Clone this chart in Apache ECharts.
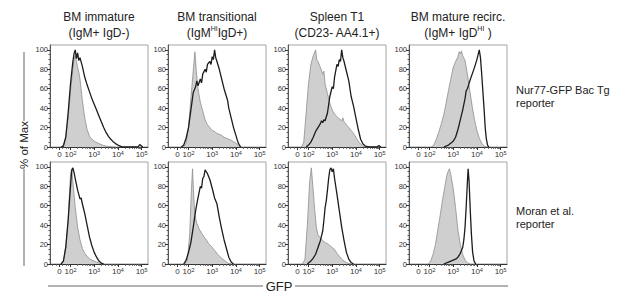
<!DOCTYPE html>
<html lang="en">
<head>
    <meta charset="UTF-8">
    <title>Nur77-GFP reporters</title>
    <script src="https://cdn.jsdelivr.net/npm/echarts@6.0.0/dist/echarts.min.js"></script>
    <style>
        body {
            margin: 0;
            background: #fff;
        }

        #main {
            width: 617px;
            height: 300px;
        }
    </style>
</head>
<body>
<div id="main"></div>

<script type="text/javascript">
    // x is in display decades: 2 = 10^2, 3 = 10^3 ... (biexponential axis, 0 sits at ~1.53)
    const xTickValues = [1.53, 2, 3, 4, 5];
    const xTickLabels = ['0', '10{s|2}', '10{s|3}', '10{s|4}', '10{s|5}'];
    const yTickValues = [0, 20, 40, 60, 80, 100];

    const colTitles = [
        'BM immature\n(IgM+ IgD-)',
        'BM transitional\n(IgM{sup|HI}IgD+)',
        'Spleen T1\n(CD23- AA4.1+)',
        'BM mature recirc.\n(IgM+ IgD{sup|HI} )'
    ];
    const rowLabels = ['Nur77-GFP Bac Tg\nreporter', 'Moran et al.\nreporter'];

    // top row: Nur77-GFP Bac Tg reporter  (ctrl = grey filled, gfp = black line)
    const tgImmCtrl = [[1.6, 0], [1.7, 2], [1.8, 10], [1.9, 30], [2.0, 58], [2.1, 80], [2.15, 90], [2.2, 94], [2.25, 88], [2.3, 82], [2.35, 77], [2.4, 70], [2.5, 48], [2.6, 30], [2.7, 18], [2.8, 11], [2.9, 8], [3.0, 6], [3.2, 3.5], [3.4, 1.5], [3.6, 0.5], [3.8, 0]];
    const tgImmGfp = [[1.6, 0], [1.7, 1], [1.8, 10], [1.9, 35], [2.0, 65], [2.1, 88], [2.15, 96], [2.2, 100], [2.25, 91], [2.3, 97], [2.35, 89], [2.4, 92], [2.5, 83], [2.6, 72], [2.7, 64], [2.8, 57], [2.9, 50], [3.0, 44], [3.1, 38], [3.2, 32], [3.3, 26], [3.4, 20], [3.5, 15], [3.6, 11], [3.7, 8], [3.8, 5.5], [3.9, 3.5], [4.0, 2], [4.1, 1], [4.2, 0], [4.85, 0], [4.92, 2.5], [5.0, 1], [5.05, 0]];
    const tgTransCtrl = [[1.8, 0], [1.9, 4], [2.0, 20], [2.1, 50], [2.2, 78], [2.27, 98], [2.33, 78], [2.4, 60], [2.5, 46], [2.6, 37], [2.7, 28], [2.8, 23], [2.9, 20], [3.0, 17], [3.1, 16], [3.2, 14], [3.3, 13], [3.4, 12], [3.5, 10], [3.6, 9], [3.7, 8], [3.8, 7], [3.9, 5.5], [4.0, 4], [4.1, 1.5], [4.2, 0]];
    const tgTransGfp = [[1.7, 0], [1.8, 2], [1.9, 9], [2.0, 20], [2.1, 38], [2.2, 56], [2.3, 62], [2.35, 68], [2.4, 63], [2.5, 70], [2.55, 66], [2.6, 75], [2.7, 80], [2.75, 77], [2.8, 85], [2.9, 88], [2.95, 85], [3.0, 93], [3.05, 90], [3.1, 100], [3.15, 92], [3.2, 88], [3.3, 80], [3.4, 70], [3.5, 60], [3.6, 52], [3.65, 48], [3.7, 40], [3.8, 30], [3.9, 20], [4.0, 12], [4.1, 4], [4.2, 0]];
    const tgT1Ctrl = [[1.7, 0], [1.8, 5], [1.9, 35], [2.0, 65], [2.1, 85], [2.2, 94], [2.3, 100], [2.35, 90], [2.4, 88], [2.5, 82], [2.6, 75], [2.65, 78], [2.7, 65], [2.8, 55], [2.9, 45], [3.0, 38], [3.1, 34], [3.2, 31], [3.3, 29], [3.4, 27], [3.45, 30], [3.5, 26], [3.6, 23], [3.7, 20], [3.8, 17], [3.9, 14], [4.0, 10], [4.1, 6], [4.2, 3], [4.3, 1], [4.4, 0]];
    const tgT1Gfp = [[1.9, 0], [2.0, 2], [2.1, 5], [2.2, 10], [2.3, 16], [2.4, 20], [2.5, 24], [2.55, 27], [2.6, 25], [2.65, 28], [2.7, 27], [2.8, 35], [2.9, 52], [3.0, 62], [3.05, 60], [3.1, 72], [3.2, 85], [3.25, 83], [3.3, 90], [3.35, 88], [3.4, 100], [3.45, 92], [3.5, 88], [3.6, 78], [3.7, 68], [3.8, 52], [3.9, 42], [4.0, 30], [4.1, 18], [4.2, 8], [4.3, 3], [4.4, 1], [4.5, 0.5], [4.6, 0], [4.9, 0], [4.97, 1.5], [5.05, 0]];
    const tgMatCtrl = [[2.1, 0], [2.2, 3], [2.3, 9], [2.4, 16], [2.5, 24], [2.6, 33], [2.7, 45], [2.8, 58], [2.9, 70], [3.0, 82], [3.1, 88], [3.2, 93], [3.25, 98], [3.3, 96], [3.35, 99], [3.4, 94], [3.5, 89], [3.6, 75], [3.7, 58], [3.8, 42], [3.9, 28], [4.0, 17], [4.1, 9], [4.2, 4], [4.3, 1], [4.4, 0]];
    const tgMatGfp = [[2.6, 0], [2.8, 2], [3.0, 6], [3.1, 10], [3.2, 18], [3.3, 28], [3.4, 38], [3.5, 50], [3.55, 58], [3.6, 60], [3.65, 64], [3.7, 68], [3.8, 75], [3.9, 82], [4.0, 90], [4.1, 100], [4.15, 92], [4.2, 76], [4.25, 58], [4.3, 40], [4.35, 20], [4.4, 8], [4.45, 2], [4.5, 0]];

    // bottom row: Moran et al. reporter
    const moImmCtrl = [[1.6, 0], [1.7, 3], [1.8, 18], [1.9, 45], [1.95, 70], [2.0, 92], [2.05, 98], [2.1, 85], [2.2, 58], [2.3, 38], [2.4, 25], [2.5, 16], [2.6, 11], [2.7, 8], [2.8, 5.5], [2.9, 4], [3.0, 3], [3.1, 2], [3.2, 1], [3.3, 0.5], [3.4, 0]];
    const moImmGfp = [[1.6, 0], [1.7, 3], [1.8, 17], [1.9, 45], [2.0, 80], [2.05, 96], [2.1, 99], [2.15, 94], [2.2, 88], [2.3, 76], [2.4, 67], [2.45, 68], [2.5, 62], [2.6, 52], [2.7, 40], [2.8, 28], [2.9, 19], [3.0, 12], [3.1, 7], [3.2, 3], [3.3, 1], [3.4, 0]];
    const moTransCtrl = [[1.85, 0], [1.95, 3], [2.05, 30], [2.12, 75], [2.17, 98], [2.22, 70], [2.27, 50], [2.35, 42], [2.45, 36], [2.55, 32], [2.65, 28], [2.75, 25], [2.85, 21], [3.0, 17], [3.1, 14], [3.2, 11], [3.3, 8], [3.4, 6], [3.5, 4], [3.6, 2], [3.7, 0.5], [3.8, 0]];
    const moTransGfp = [[1.8, 0], [1.9, 4], [2.0, 12], [2.1, 22], [2.2, 38], [2.3, 55], [2.4, 68], [2.5, 80], [2.55, 78], [2.6, 88], [2.65, 90], [2.7, 97], [2.75, 95], [2.8, 93], [2.9, 87], [3.0, 78], [3.1, 68], [3.2, 62], [3.3, 48], [3.4, 36], [3.5, 25], [3.6, 16], [3.7, 7], [3.8, 2], [3.9, 0]];
    const moT1Ctrl = [[1.75, 0], [1.85, 5], [1.95, 40], [2.05, 85], [2.12, 99], [2.19, 78], [2.26, 56], [2.33, 38], [2.4, 30], [2.5, 27], [2.6, 24], [2.7, 22], [2.8, 21], [2.9, 19], [3.0, 17], [3.1, 15], [3.2, 11], [3.3, 8], [3.4, 5], [3.5, 3], [3.6, 1.5], [3.7, 0.5], [3.8, 0]];
    const moT1Gfp = [[1.95, 0], [2.1, 3], [2.2, 6], [2.3, 10], [2.4, 17], [2.5, 24], [2.6, 34], [2.65, 45], [2.7, 58], [2.75, 65], [2.8, 76], [2.85, 88], [2.9, 97], [2.95, 99], [3.0, 95], [3.05, 98], [3.1, 88], [3.2, 72], [3.3, 55], [3.4, 38], [3.5, 24], [3.6, 12], [3.7, 5], [3.8, 1.5], [3.9, 0]];
    const moMatCtrl = [[1.95, 0], [2.05, 3], [2.15, 10], [2.25, 20], [2.35, 35], [2.45, 50], [2.55, 66], [2.65, 80], [2.72, 90], [2.78, 95], [2.84, 98], [2.9, 92], [3.0, 78], [3.1, 58], [3.2, 35], [3.3, 20], [3.4, 10], [3.5, 4], [3.6, 1.5], [3.7, 0]];
    const moMatGfp = [[2.6, 0], [2.8, 2], [3.0, 4], [3.1, 5], [3.2, 7], [3.3, 11], [3.4, 17], [3.45, 25], [3.5, 38], [3.55, 60], [3.6, 85], [3.63, 98], [3.67, 85], [3.72, 55], [3.77, 30], [3.82, 12], [3.88, 3], [3.95, 0]];

    const panels = [
        [tgImmCtrl, tgImmGfp], [tgTransCtrl, tgTransGfp], [tgT1Ctrl, tgT1Gfp], [tgMatCtrl, tgMatGfp],
        [moImmCtrl, moImmGfp], [moTransCtrl, moTransGfp], [moT1Ctrl, moT1Gfp], [moMatCtrl, moMatGfp]
    ];

    const FONT = '"Liberation Sans", Arial, Helvetica, sans-serif';
    const colLefts = [50, 168, 288, 409];
    const rowTops = [45, 162];
    const PW = 98, PH = 102;
    const X_MIN = 1.135, X_MAX = 5.27;

    // small ticks: biexponential linear part + log minor ticks
    let xMinor = [1.25, 1.4, 1.66, 1.8, 1.9];
    for (let n = 2; n <= 4; n++) {
        for (let k = 2; k <= 9; k++) {
            xMinor.push(n + Math.log10(k));
        }
    }
    let yMinor = [];
    for (let v = 5; v < 100; v += 5) {
        if (v % 20 !== 0) yMinor.push(v);
    }

    function xLabel(v) {
        for (let i = 0; i < xTickValues.length; i++) {
            if (Math.abs(v - xTickValues[i]) < 1e-6) return xTickLabels[i];
        }
        return '';
    }

    let grids = [], xAxes = [], yAxes = [], series = [];
    panels.forEach(function (p, idx) {
        let r = Math.floor(idx / 4), c = idx % 4;
        grids.push({
            left: colLefts[c], top: rowTops[r], width: PW, height: PH,
            show: true, borderColor: '#a3a3a3', borderWidth: 1
        });
        xAxes.push({
            type: 'value', gridIndex: idx, min: X_MIN, max: X_MAX, position: 'bottom',
            axisLine: {show: true, onZero: false, lineStyle: {color: '#333', width: 1}},
            axisTick: {show: true, customValues: xTickValues, length: 3, lineStyle: {color: '#333'}},
            axisLabel: {
                customValues: xTickValues, formatter: xLabel, margin: 3,
                color: '#333', fontSize: 8, fontFamily: FONT,
                rich: {s: {fontSize: 5.5, verticalAlign: 'top', fontFamily: FONT, color: '#333'}}
            },
            splitLine: {show: false}
        });
        xAxes.push({
            type: 'value', gridIndex: idx, min: X_MIN, max: X_MAX, position: 'bottom',
            axisLine: {show: false, onZero: false},
            axisTick: {show: true, customValues: xMinor, length: 1.8, lineStyle: {color: '#555'}},
            axisLabel: {show: false},
            splitLine: {show: false}
        });
        yAxes.push({
            type: 'value', gridIndex: idx, min: 0, max: 105, position: 'left',
            axisLine: {show: true, onZero: false, lineStyle: {color: '#555', width: 1}},
            axisTick: {show: true, customValues: yTickValues, length: 3, lineStyle: {color: '#333'}},
            axisLabel: {customValues: yTickValues, margin: 2, color: '#333', fontSize: 7.5, fontFamily: FONT},
            splitLine: {show: false}
        });
        yAxes.push({
            type: 'value', gridIndex: idx, min: 0, max: 105, position: 'left',
            axisLine: {show: false, onZero: false},
            axisTick: {show: true, customValues: yMinor, length: 1.5, lineStyle: {color: '#555'}},
            axisLabel: {show: false},
            splitLine: {show: false}
        });
        series.push({
            type: 'line', xAxisIndex: 2 * idx, yAxisIndex: 2 * idx, data: p[0],
            symbol: 'none', silent: true, z: 2,
            lineStyle: {color: '#8e8e8e', width: 0.8},
            areaStyle: {color: '#cfcfcf', opacity: 1}
        });
        series.push({
            type: 'line', xAxisIndex: 2 * idx, yAxisIndex: 2 * idx, data: p[1],
            symbol: 'none', silent: true, z: 3,
            lineStyle: {color: '#1c1c1c', width: 1.3}
        });
    });

    let texts = [];
    colTitles.forEach(function (t, c) {
        texts.push({
            type: 'text', x: colLefts[c] + PW / 2, y: 9,
            style: {
                text: t, fill: '#222', fontSize: 12, fontFamily: FONT, lineHeight: 16,
                align: 'center', verticalAlign: 'top',
                rich: {sup: {fontSize: 7, fontFamily: FONT, fill: '#222', verticalAlign: 'top', lineHeight: 16}}
            }
        });
    });
    rowLabels.forEach(function (t, r) {
        texts.push({
            type: 'text', x: 516, y: r === 0 ? 83 : 204,
            style: {text: t, fill: '#222', fontSize: 11, fontFamily: FONT, lineHeight: 13, align: 'left', verticalAlign: 'top'}
        });
    });
    texts.push({
        type: 'text', x: 24, y: 145, rotation: Math.PI / 2,
        style: {text: '% of Max', fill: '#222', fontSize: 11.5, fontFamily: FONT, align: 'center', verticalAlign: 'middle'}
    });
    texts.push({
        type: 'text', x: 279, y: 286,
        style: {text: 'GFP', fill: '#222', fontSize: 13, fontFamily: FONT, align: 'center', verticalAlign: 'middle'}
    });
    // divider lines round the shared axis names
    [[24, 52, 24, 121], [24, 169, 24, 266], [48, 286, 263, 286], [295, 286, 508, 286]].forEach(function (l) {
        texts.push({
            type: 'line', shape: {x1: l[0], y1: l[1], x2: l[2], y2: l[3]},
            style: {stroke: '#666', lineWidth: 1}
        });
    });

    let chart = echarts.init(document.getElementById('main'), null, {renderer: 'svg'});
    chart.setOption({
        animation: false,
        backgroundColor: '#fff',
        grid: grids,
        xAxis: xAxes,
        yAxis: yAxes,
        series: series,
        graphic: texts
    });
</script>
</body>
</html>
